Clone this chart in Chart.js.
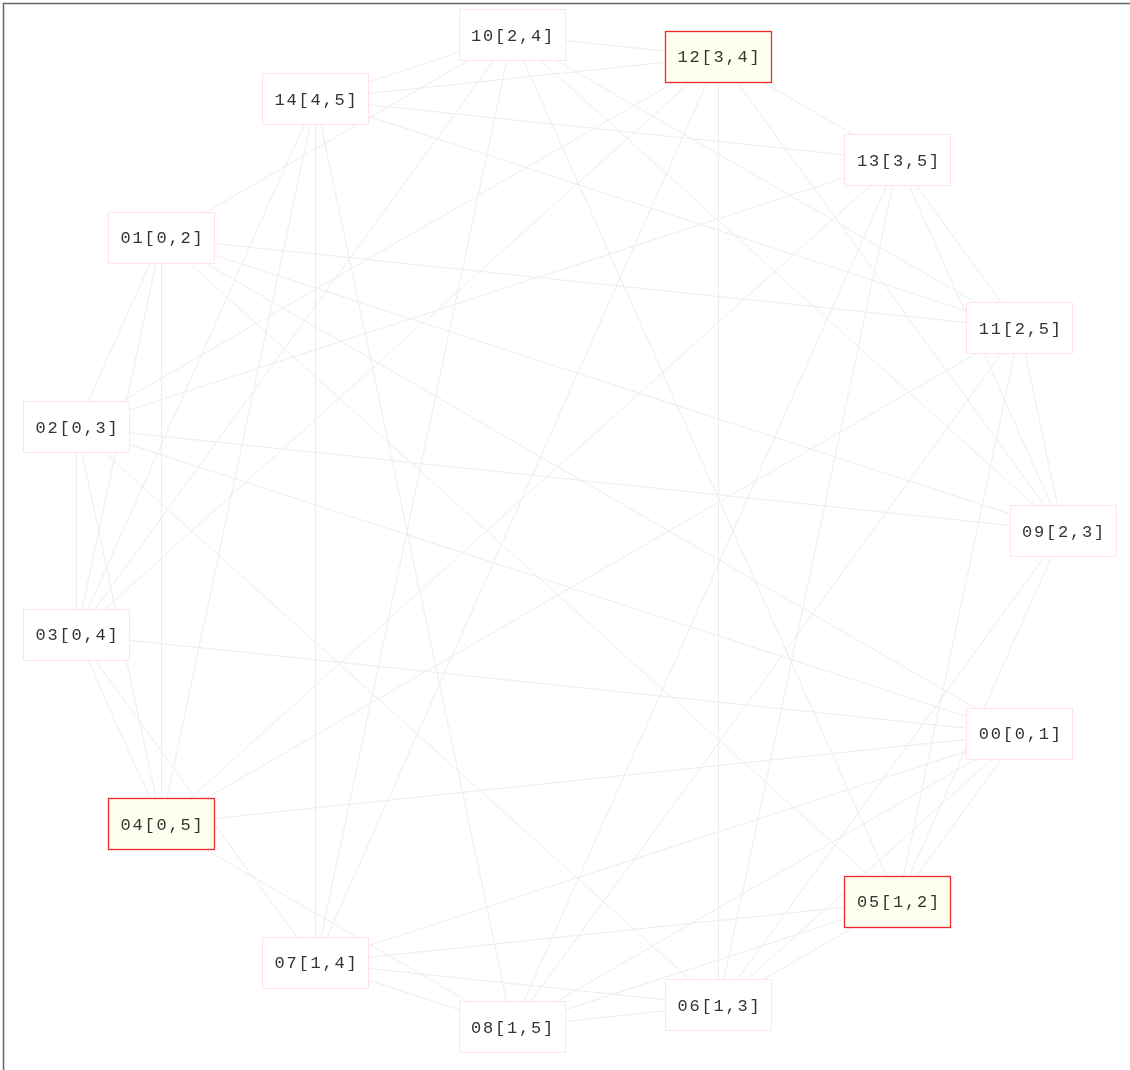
<!DOCTYPE html>
<html>
<head>
<meta charset="utf-8">
<script src="https://cdn.jsdelivr.net/npm/chart.js@4/dist/chart.umd.min.js"></script>
<style>
html,body{margin:0;padding:0;background:#fff;}
#wrap{position:absolute;left:0;top:0;width:1130px;height:1070px;}
</style>
</head>
<body>
<div id="wrap"><canvas id="c" width="1130" height="1070"></canvas></div>
<script>
// Node labels (pairs from {0..5})
const nodeLabels = ["00[0,1]","01[0,2]","02[0,3]","03[0,4]","04[0,5]","05[1,2]","06[1,3]","07[1,4]","08[1,5]","09[2,3]","10[2,4]","11[2,5]","12[3,4]","13[3,5]","14[4,5]"];
// Node layout positions (data units)
const nodeX = [1019.9, 161.5, 76.5, 76.5, 161.5, 898.0, 718.5, 315.5, 512.2, 1063.0, 512.2, 1019.9, 718.5, 898.0, 315.5];
const nodeY = [733.8, 237.9, 427.3, 634.7, 824.1, 901.6, 1005.3, 962.9, 1027.0, 531.0, 35.0, 328.2, 56.7, 160.4, 99.1];
// Highlighted nodes
const highlighted = [4, 5, 12];
// Edges (node index pairs)
const edgeFrom = [0,0,0,0,0,0,0,0, 1,1,1,1,1,1,1, 2,2,2,2,2,2, 3,3,3,3,3, 4,4,4,4, 5,5,5,5,5,5, 6,6,6,6,6, 7,7,7,7, 8,8,8, 9,9,9,9, 10,10,10, 11,11, 12,12, 13];
const edgeTo   = [1,2,3,4,5,6,7,8, 2,3,4,5,9,10,11, 3,4,6,9,12,13, 4,7,10,12,14, 8,11,13,14, 6,7,8,9,10,11, 7,8,9,12,13, 8,10,12,14, 11,13,14, 10,11,12,13, 11,12,14, 13,14, 13,14, 14];

const datasets = edgeFrom.map((a, i) => ({
  data: [{x: nodeX[a], y: nodeY[a]}, {x: nodeX[edgeTo[i]], y: nodeY[edgeTo[i]]}],
  showLine: true,
  borderColor: '#ededed',
  borderWidth: 1,
  pointRadius: 0,
  pointHoverRadius: 0,
  fill: false
}));

const boxW = 106, boxH = 51;

const nodePlugin = {
  id: 'nodes',
  beforeDraw(chart) {
    const ctx = chart.ctx;
    ctx.save();
    ctx.fillStyle = '#fff';
    ctx.fillRect(0, 0, chart.width, chart.height);
    ctx.strokeStyle = '#666';
    ctx.lineWidth = 1.5;
    ctx.beginPath();
    ctx.moveTo(3.5, chart.height + 5);
    ctx.lineTo(3.5, 3.5);
    ctx.lineTo(chart.width + 5, 3.5);
    ctx.stroke();
    ctx.restore();
  },
  afterDatasetsDraw(chart) {
    const ctx = chart.ctx;
    const xs = chart.scales.x, ys = chart.scales.y;
    ctx.save();
    nodeLabels.forEach((lab, i) => {
      const px = xs.getPixelForValue(nodeX[i]);
      const py = ys.getPixelForValue(nodeY[i]);
      const l = Math.floor(px - boxW / 2) + 0.5;
      const t = Math.floor(py - boxH / 2) + 0.5;
      const hi = highlighted.includes(i);
      ctx.fillStyle = hi ? '#fffff0' : '#ffffff';
      ctx.fillRect(l, t, boxW, boxH);
      ctx.strokeStyle = hi ? '#f02a2a' : '#ffe4ec';
      ctx.lineWidth = hi ? 1.3 : 1;
      ctx.strokeRect(l, t, boxW, boxH);
      ctx.fillStyle = '#333';
      ctx.font = '17px "Liberation Mono", monospace';
      ctx.letterSpacing = '1.8px';
      ctx.textAlign = 'center';
      ctx.textBaseline = 'middle';
      ctx.fillText(lab, px + 0.9, py + 1);
    });
    ctx.restore();
  }
};

new Chart(document.getElementById('c'), {
  type: 'scatter',
  data: { datasets },
  options: {
    responsive: false,
    animation: false,
    events: [],
    layout: { padding: 0 },
    plugins: { legend: { display: false }, tooltip: { enabled: false } },
    scales: {
      x: { type: 'linear', display: false, min: 0, max: 1130 },
      y: { type: 'linear', display: false, min: 0, max: 1070, reverse: true }
    }
  },
  plugins: [nodePlugin]
});
</script>
</body>
</html>
